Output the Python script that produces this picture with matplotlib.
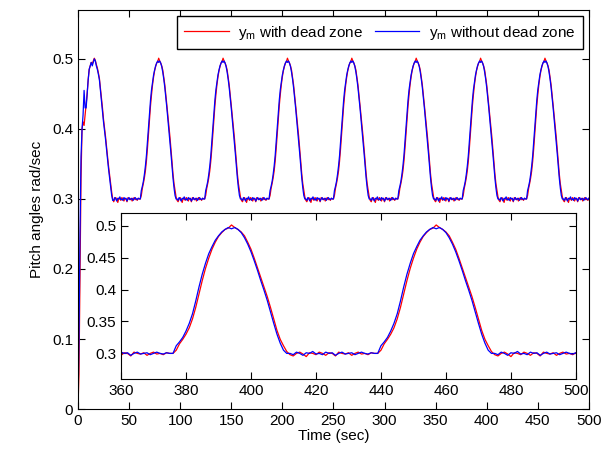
import numpy as np
import matplotlib
matplotlib.use('Agg')
import matplotlib.pyplot as plt
from matplotlib.ticker import FormatStrFormatter

plt.rcParams['font.family'] = ['Liberation Sans', 'DejaVu Sans']
plt.rcParams['mathtext.fontset'] = 'custom'
plt.rcParams['mathtext.rm'] = 'Liberation Sans'

# samples every 1 s; start-up transient 0..34 s (first peak near 16 s)
startup_dz = [0.000, 0.050, 0.190, 0.330, 0.400, 0.410, 0.405, 0.420, 0.435, 0.450,
              0.470, 0.485, 0.490, 0.495, 0.493, 0.497, 0.501, 0.498, 0.492, 0.487,
              0.480, 0.472, 0.458, 0.444, 0.430, 0.414, 0.402, 0.389, 0.374, 0.360,
              0.346, 0.334, 0.322, 0.310, 0.300]
startup_nodz = [0.000, 0.100, 0.250, 0.360, 0.400, 0.420, 0.455, 0.430, 0.430, 0.450,
                0.470, 0.485, 0.490, 0.495, 0.490, 0.495, 0.500, 0.497, 0.490, 0.485,
                0.478, 0.470, 0.455, 0.440, 0.425, 0.410, 0.398, 0.385, 0.370, 0.356,
                0.342, 0.330, 0.318, 0.305, 0.298]

# flat part between pulses (26 s)
flat_dz = [0.296, 0.300, 0.302, 0.299, 0.295, 0.301, 0.300, 0.298, 0.302, 0.300,
           0.297, 0.301, 0.300, 0.296, 0.302, 0.300, 0.299, 0.301, 0.297, 0.300,
           0.302, 0.299, 0.300, 0.298, 0.301, 0.300]
flat_nodz = [0.298, 0.302, 0.300, 0.297, 0.301, 0.300, 0.303, 0.299, 0.300, 0.298,
             0.302, 0.300, 0.301, 0.297, 0.300, 0.302, 0.299, 0.300, 0.301, 0.298,
             0.300, 0.302, 0.300, 0.299, 0.301, 0.300]

# pulse, -18 s .. +18 s around each peak
pulse_dz = [0.300, 0.305, 0.315, 0.322, 0.330, 0.340, 0.354, 0.372, 0.393, 0.414,
            0.433, 0.449, 0.463, 0.474, 0.483, 0.489, 0.494, 0.496, 0.501, 0.497,
            0.494, 0.490, 0.484, 0.474, 0.463, 0.449, 0.434, 0.419, 0.404, 0.389,
            0.372, 0.354, 0.336, 0.322, 0.312, 0.303, 0.298]
pulse_nodz = [0.300, 0.312, 0.318, 0.325, 0.335, 0.347, 0.362, 0.382, 0.404, 0.424,
              0.441, 0.456, 0.467, 0.477, 0.484, 0.490, 0.494, 0.497, 0.495, 0.497,
              0.494, 0.489, 0.481, 0.471, 0.459, 0.445, 0.430, 0.414, 0.399, 0.383,
              0.365, 0.347, 0.330, 0.316, 0.305, 0.300, 0.300]

n_pulses = 7  # peaks at 79, 142, ..., 457 s

ym_dz = list(startup_dz)
ym_nodz = list(startup_nodz)
for k in range(n_pulses):
    ym_dz += flat_dz + pulse_dz
    ym_nodz += flat_nodz + pulse_nodz
ym_dz += flat_dz[:25]
ym_nodz += flat_nodz[:25]
t = np.arange(len(ym_dz))

fig = plt.figure(figsize=(6.09, 4.49), dpi=100)
ax = fig.add_axes([0.128, 0.089, 0.839, 0.889])

ax.plot(t, ym_dz, color='red', lw=0.9, label=r'y$_\mathrm{m}$ with dead zone')
ax.plot(t, ym_nodz, color='blue', lw=0.9, label=r'y$_\mathrm{m}$ without dead zone')
ax.set_xlim(0, 500)
ax.set_ylim(0, 0.57)
ax.set_xticks(np.arange(0, 501, 50))
ax.set_yticks(np.arange(0, 0.51, 0.1))
ax.yaxis.set_major_formatter(FormatStrFormatter('%g'))
ax.tick_params(direction='in', top=True, right=True, labelsize=11, length=5)
ax.set_xlabel('Time (sec)', fontsize=11, labelpad=1)
ax.set_ylabel('Pitch angles rad/sec', fontsize=11, labelpad=6)
leg = ax.legend(loc='upper right', ncol=2, fontsize=11, fancybox=False, framealpha=1,
                edgecolor='black', handlelength=2.9, columnspacing=0.8, handletextpad=0.6,
                borderpad=0.5, borderaxespad=0, bbox_to_anchor=(0.988, 0.985))
leg.get_frame().set_linewidth(1.0)

ins = fig.add_axes([0.1987, 0.156, 0.747, 0.370])
ins.plot(t, ym_dz, color='red', lw=0.9)
ins.plot(t, ym_nodz, color='blue', lw=0.9)
ins.set_xlim(360, 500)
ins.set_ylim(0.26, 0.52)
ins.set_xticks(np.arange(360, 501, 20))
ins.set_yticks([0.3, 0.35, 0.4, 0.45, 0.5])
ins.yaxis.set_major_formatter(FormatStrFormatter('%g'))
ins.tick_params(direction='in', top=True, right=True, labelsize=11, length=5)

fig.savefig('out.png', dpi=100)
